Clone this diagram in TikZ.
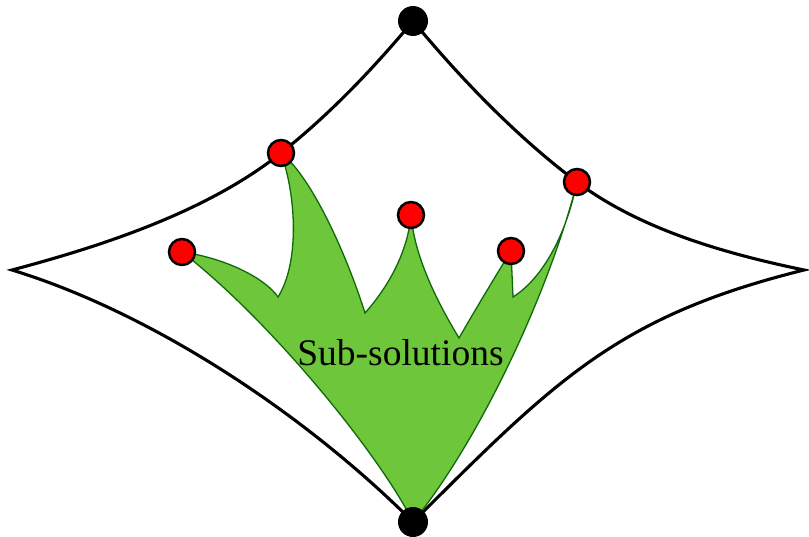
\documentclass[tikz,border=0pt]{standalone}
\usepackage{fontspec}
\setmainfont{Liberation Serif}
\pgfdeclarelayer{bg}
\pgfsetlayers{bg,main}
\definecolor{leaf}{RGB}{110,198,58}
\definecolor{leafline}{RGB}{15,105,10}
\begin{document}
\begin{tikzpicture}[x=1pt,y=-1pt,
  edge/.style={line width=3.1pt, draw=black, line join=miter},
  reddot/.style={circle, fill=red, draw=black, line width=2.5pt, minimum size=26pt, inner sep=0pt},
  blackdot/.style={circle, fill=black, minimum size=30pt, inner sep=0pt},
  region/.style={fill=leaf, draw=leafline, line width=1.3pt},
  lbl/.style={font=\fontsize{37.5}{40}\selectfont, anchor=base, inner sep=0pt}]
\useasboundingbox (0,0) rectangle (809,536);
% positions
\coordinate (L) at (12,270);
\coordinate (R) at (804,270);
\coordinate (V1) at (278,297);
\coordinate (V2) at (365,313);
\coordinate (V3) at (459,338);
\coordinate (V4) at (513,297);
% dots
\node[blackdot] (T) at (413,21) {};
\node[blackdot] (B) at (413,522) {};
\node[reddot] (D1) at (182,252) {};
\node[reddot] (A) at (281,153) {};
\node[reddot] (C) at (411,215) {};
\node[reddot] (D) at (511,251) {};
\node[reddot] (E) at (577,182) {};
\node[lbl] (label) at (400.5,365) {Sub-solutions};
\begin{pgfonlayer}{bg}
% outer curved diamond
\draw[edge] (T.center) .. controls (373,69) and (329,115) .. (A.center)
  .. controls (207,212) and (102,246) .. (L)
  .. controls (154,313.5) and (306.5,415.5) .. (B.center)
  .. controls (557,378) and (619,316) .. (R)
  .. controls (727,254) and (641,230) .. (E.center)
  .. controls (517,137) and (461,79) .. cycle;
% green region
\draw[region] (B.center) .. controls (380,455) and (270,320) .. (D1.center)
  .. controls (225,258) and (265,278) .. (V1)
  .. controls (300,262) and (296,195) .. (A.center)
  .. controls (310,175) and (345,250) .. (V2)
  .. controls (390,285) and (408,250) .. (C.center)
  .. controls (414,250) and (430,290) .. (V3)
  .. controls (478,305) and (498,272) .. (D.center)
  -- (V4)
  .. controls (540,280) and (565,240) .. (E.center)
  .. controls (550,290) and (480,440) .. cycle;
\end{pgfonlayer}
\end{tikzpicture}
\end{document}
